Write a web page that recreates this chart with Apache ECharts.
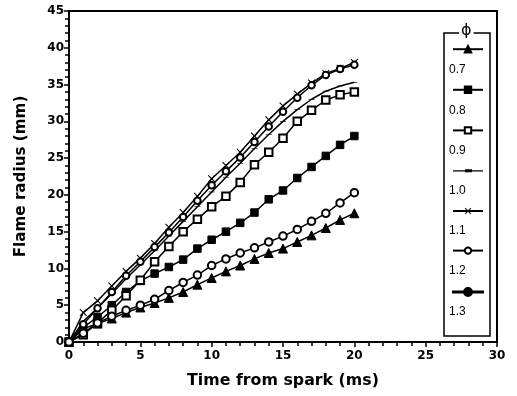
<!DOCTYPE html>
<html>
<head>
<meta charset="utf-8">
<script src="https://cdn.jsdelivr.net/npm/echarts@6/dist/echarts.min.js"></script>
<style>
  html, body { margin: 0; padding: 0; background: #fff; }
  #chart { width: 517px; height: 396px; }
</style>
</head>
<body>
<div id="chart"></div>
<script>
// Flame radius vs. time from spark, one curve per equivalence ratio
const times = [0, 1, 2, 3, 4, 5, 6, 7, 8, 9, 10, 11, 12, 13, 14, 15, 16, 17, 18, 19, 20];
const phiNames = ['0.7', '0.8', '0.9', '1.0', '1.1', '1.2', '1.3'];
const phi07 = [0, 1.8, 2.5, 3.2, 4.0, 4.7, 5.3, 6.0, 6.8, 7.8, 8.7, 9.6, 10.4, 11.3, 12.1, 12.7, 13.6, 14.5, 15.5, 16.6, 17.5];
const phi08 = [0, 2.0, 3.4, 5.0, 6.8, 8.3, 9.3, 10.2, 11.2, 12.7, 13.9, 15.0, 16.2, 17.6, 19.4, 20.6, 22.3, 23.8, 25.3, 26.8, 28.0];
const phi09 = [0, 1.0, 2.6, 4.3, 6.3, 8.4, 10.9, 13.0, 15.0, 16.7, 18.4, 19.8, 21.7, 24.1, 25.8, 27.7, 30.0, 31.5, 32.9, 33.6, 34.0];
const phi10 = [0, 2.8, 4.6, 6.6, 8.6, 10.5, 12.4, 14.4, 16.4, 18.4, 20.4, 22.4, 24.3, 26.3, 28.2, 30.0, 31.6, 33.0, 34.1, 34.8, 35.3];
const phi11 = [0, 4.0, 5.6, 7.6, 9.6, 11.4, 13.4, 15.6, 17.6, 19.8, 22.2, 24.0, 25.8, 28.0, 30.2, 32.1, 33.7, 35.2, 36.5, 37.2, 38.0];
const phi12 = [0, 2.4, 4.6, 6.8, 9.0, 10.9, 12.9, 14.9, 17.0, 19.2, 21.3, 23.2, 25.1, 27.2, 29.3, 31.3, 33.2, 34.9, 36.3, 37.1, 37.7];
const phi13 = [0, 1.2, 2.6, 3.5, 4.3, 5.0, 5.8, 7.0, 8.1, 9.1, 10.4, 11.3, 12.1, 12.8, 13.6, 14.4, 15.3, 16.4, 17.5, 18.9, 20.3];
const xTicks = [0, 5, 10, 15, 20, 25, 30];
const yTicks = [0, 5, 10, 15, 20, 25, 30, 35, 40, 45];

const values = [phi07, phi08, phi09, phi10, phi11, phi12, phi13];

// marker per curve
const crossPath = 'path://M0,1 L1,0 L5,4 L9,0 L10,1 L6,5 L10,9 L9,10 L5,6 L1,10 L0,9 L4,5 Z';
const dashPath = 'path://M0,0 L6,0 L6,2 L0,2 Z';
// legend icons drawn as paths: a line with the marker on it
const dashLegendPath = 'path://M0,0 M30,8 M0,3.4 L30,3.4 L30,4.6 L0,4.6 Z M12,2.5 L19,2.5 L19,5.5 L12,5.5 Z';
const ringLegendPath = 'path://M0,0 M30,8 M0,3.4 L11,3.4 L11,4.6 L0,4.6 Z M19,3.4 L30,3.4 L30,4.6 L19,4.6 Z ' +
  'M11,4 A4,4 0 1,1 19,4 A4,4 0 1,1 11,4 Z M13.8,4 A1.2,1.2 0 1,0 16.2,4 A1.2,1.2 0 1,0 13.8,4 Z';
const markers = [
  { symbol: 'triangle', size: 9, border: 1 },
  { symbol: 'rect', size: 7.5, border: 1 },
  { symbol: 'emptyRect', size: 7.5, border: 1.2 },
  { symbol: dashPath, size: [6, 2], border: 0 },
  { symbol: crossPath, size: 7.5, border: 0 },
  { symbol: 'emptyCircle', size: 6.5, border: 1.2 },
  { symbol: 'emptyCircle', size: 7.5, border: 3 }
];
const legendIcons = { 3: dashLegendPath, 6: ringLegendPath };

const series = phiNames.map((name, k) => ({
  name: name,
  type: 'line',
  data: times.map((t, i) => [t, values[k][i]]),
  symbol: markers[k].symbol,
  symbolSize: markers[k].size,
  symbolKeepAspect: true,
  showAllSymbol: true,
  lineStyle: { color: '#000', width: 1.5 },
  itemStyle: { color: '#000', borderColor: '#000', borderWidth: markers[k].border },
  z: 3 + k
}));

const tickFont = { color: '#000', fontFamily: 'DejaVu Sans, sans-serif', fontWeight: 'bold', fontSize: 12 };
const xNameFont = { color: '#000', fontFamily: 'DejaVu Sans, sans-serif', fontWeight: 'bold', fontSize: 15.8 };
const yNameFont = { color: '#000', fontFamily: 'DejaVu Sans, sans-serif', fontWeight: 'bold', fontSize: 15.2 };

const legendTop = 45;
const legendStep = 40.2;
const legendIcon = 8;

const legendData = phiNames.map((name, k) => {
  const item = { name: name };
  if (legendIcons[k]) item.icon = legendIcons[k];
  return item;
});

const graphics = [
  { type: 'rect', shape: { x: 444, y: 33, width: 46, height: 303 },
    style: { fill: 'none', stroke: '#000', lineWidth: 1.5 }, z: 1 },
  { type: 'text', left: 459, top: 23,
    style: { text: 'ϕ', fill: '#000', font: '16px DejaVu Sans, sans-serif', backgroundColor: '#fff', padding: [0, 2] }, z: 10 }
].concat(phiNames.map((name, k) => ({
  type: 'text', left: 449, top: legendTop + 19 + k * legendStep,
  style: { text: name, fill: '#000', font: '12px Liberation Sans, Arial, sans-serif' }, z: 10
})));

const chart = echarts.init(document.getElementById('chart'), null, { renderer: 'canvas' });
chart.setOption({
  backgroundColor: '#fff',
  animation: false,
  color: ['#000'],
  grid: { left: 69, right: 20, top: 11, bottom: 54, show: true, borderColor: '#000', borderWidth: 2, backgroundColor: 'transparent' },
  xAxis: {
    type: 'value', min: 0, max: 30, interval: 5,
    name: 'Time from spark (ms)', nameLocation: 'middle', nameGap: 31, nameTextStyle: xNameFont,
    axisLine: { show: true, lineStyle: { color: '#000', width: 2 } },
    axisTick: { show: true, inside: false, length: 5, lineStyle: { color: '#000', width: 1.5 } },
    minorTick: { show: true, splitNumber: 5, length: 4, lineStyle: { color: '#000', width: 1.5 } },
    splitLine: { show: false },
    axisLabel: Object.assign({ margin: 8, formatter: v => (xTicks.indexOf(v) >= 0 ? String(v) : '') }, tickFont)
  },
  yAxis: {
    type: 'value', min: 0, max: 45, interval: 5,
    name: 'Flame radius (mm)', nameLocation: 'middle', nameGap: 40, nameRotate: 90, nameTextStyle: yNameFont,
    axisLine: { show: true, lineStyle: { color: '#000', width: 2 } },
    axisTick: { show: true, inside: false, length: 5, lineStyle: { color: '#000', width: 1.5 } },
    minorTick: { show: true, splitNumber: 5, length: 4, lineStyle: { color: '#000', width: 1.5 } },
    splitLine: { show: false },
    axisLabel: Object.assign({ margin: 5, formatter: v => (yTicks.indexOf(v) >= 0 ? String(v) : '') }, tickFont)
  },
  legend: {
    show: true, orient: 'vertical', left: 452, top: legendTop, padding: 0,
    itemWidth: 30, itemHeight: legendIcon, itemGap: legendStep - legendIcon,
    formatter: () => '',
    textStyle: { fontSize: 1 },
    selectedMode: false,
    data: legendData
  },
  graphic: graphics,
  series: series
});
</script>
</body>
</html>
